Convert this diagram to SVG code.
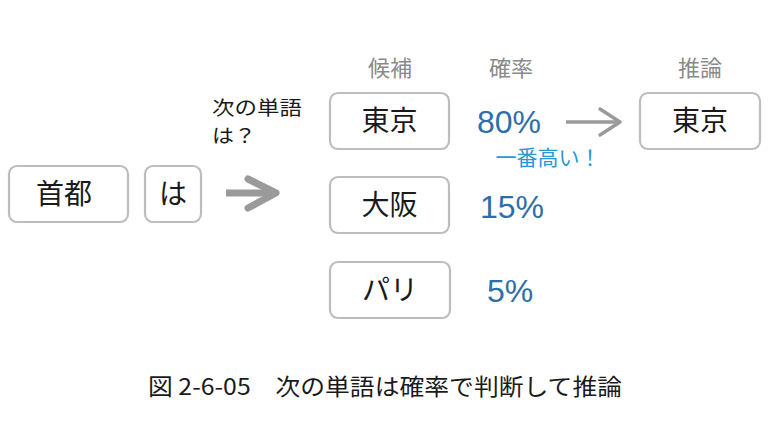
<svg xmlns="http://www.w3.org/2000/svg" width="768" height="432" viewBox="0 0 768 432">
<style>
.box{fill:#fff;stroke:#bdbdbd;stroke-width:2.2}
.t{font-family:"Noto Sans CJK JP","Liberation Sans",sans-serif;fill:#1a1a1a;text-anchor:middle}
.nt{font-size:28px}
.hd{font-size:22px;fill:#8a8a8a}
.pct{font-family:"Liberation Sans","Noto Sans",sans-serif;font-size:32px;fill:#2e6ea8}
.hi{font-size:21px;fill:#2b96d4}
.q{font-size:19px;text-anchor:start}
</style>
<rect width="768" height="432" fill="#fff"/>
<g id="n-shuto"><rect class="box" x="9" y="166" width="119" height="56" rx="8"/><text class="t nt" x="64" y="204">首都</text></g>
<g id="n-ha"><rect class="box" x="145" y="166" width="56" height="56" rx="8"/><text class="t nt" x="173" y="204">は</text></g>
<g id="q"><text class="t q" x="212" y="115" textLength="90" lengthAdjust="spacingAndGlyphs">次の単語</text><text class="t q" x="212" y="143" textLength="44" lengthAdjust="spacingAndGlyphs">は？</text></g>
<g id="heads"><text class="t hd" x="390" y="76">候補</text><text class="t hd" x="511" y="76">確率</text><text class="t hd" x="700" y="76">推論</text></g>
<g id="n-tokyo"><rect class="box" x="330" y="93" width="119" height="56" rx="8"/><text class="t nt" x="389.5" y="131">東京</text></g>
<g id="n-osaka"><rect class="box" x="330" y="177" width="119" height="56" rx="8"/><text class="t nt" x="389.5" y="215">大阪</text></g>
<g id="n-pari"><rect class="box" x="330" y="262" width="120" height="56" rx="8"/><text class="t nt" x="390" y="300">パリ</text></g>
<g id="n-result"><rect class="box" x="640" y="93" width="120" height="56" rx="8"/><text class="t nt" x="700" y="131">東京</text></g>
<g id="probs"><text class="pct" x="477" y="133">80%</text><text class="pct" x="480" y="218">15%</text><text class="pct" x="487" y="302">5%</text><text class="t hi" x="548" y="165">一番高い！</text></g>
<g id="connectors" fill="none" stroke="#9a9a9a" stroke-linecap="round" stroke-linejoin="round">
<path d="M226 193 H276" stroke-width="7" stroke-linecap="butt"/>
<path d="M248 179 L276 193 L248 208" stroke-width="7"/>
<path d="M566 122 H620" stroke-width="3.5" stroke-linecap="butt"/>
<path d="M600 109 L620 122 L600 135" stroke-width="3.5"/>
</g>
<g id="caption"><text class="t" style="font-size:23px;text-anchor:start" x="148" y="395" textLength="474" lengthAdjust="spacingAndGlyphs">図 2-6-05　次の単語は確率で判断して推論</text></g>
</svg>
